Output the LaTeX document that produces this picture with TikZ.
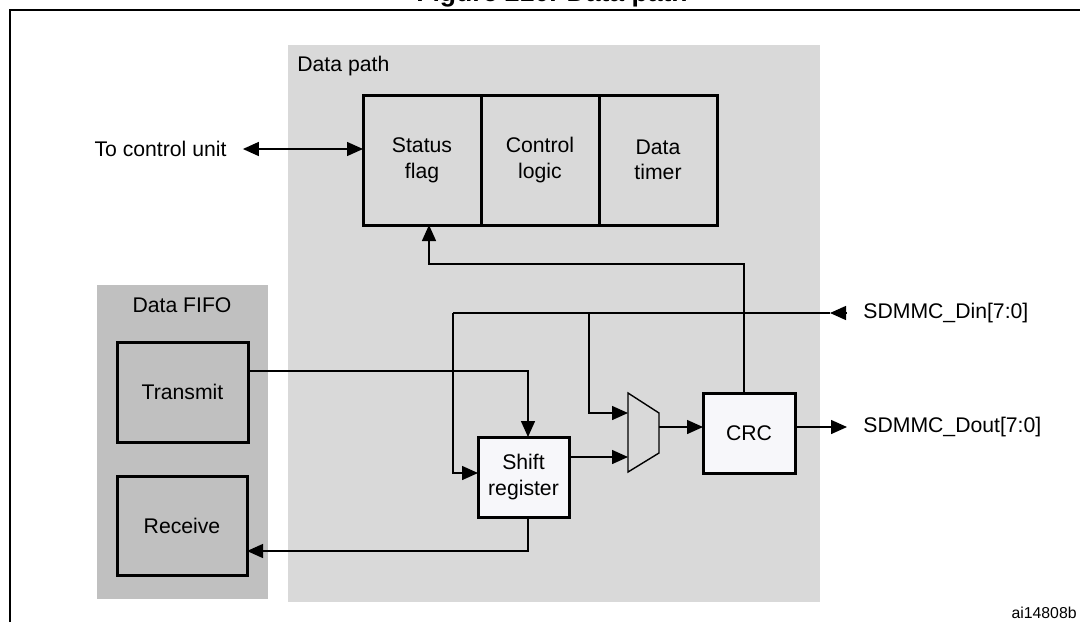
\documentclass[tikz,border=0pt]{standalone}
\usepackage{fontspec}
\setmainfont{Liberation Sans}
\usetikzlibrary{positioning,calc,arrows.meta}
\definecolor{pathgrey}{HTML}{D9D9D9}
\definecolor{fifogrey}{HTML}{C0C0C0}
\definecolor{regfill}{HTML}{F7F7FA}
\tikzset{
	blk/.style={draw, line width=1.5pt, outer sep=0pt, inner sep=0pt, align=center, font=\fontsize{10.6}{12.8}\selectfont},
	lbl/.style={inner sep=0pt, font=\fontsize{10.6}{12.8}\selectfont},
	wire/.style={line width=0.7pt},
	>={Triangle[length=8pt,width=7pt]}
}

\begin{document}
\begin{tikzpicture}[x=0.5pt, y=-0.5pt]
		%%%%% START %%%%%
		\useasboundingbox (0, 0) rectangle (1080, 622);
		
		\node[anchor=base, inner sep=0pt, font=\fontsize{13.3}{15}\selectfont\bfseries] (fig) at (552, 1) {Figure 210. Data path};
		\draw[line width=0.8pt] (10, 622) -- (10, 10) -- (1080, 10);
		
		\fill[pathgrey] (288, 45) rectangle (820, 602);
		\fill[fifogrey] (97, 285) rectangle (268, 599);
		\node[lbl, anchor=west] (pathlbl) at (297, 66) {Data path};
		\node[lbl] (fifolbl) at (182, 305) {Data FIFO};
		
		\node[blk, minimum width=59pt, minimum height=65pt] (status) at (422, 160) {Status\\flag};
		\node[blk, minimum width=59pt, minimum height=65pt, right=0pt of status] (ctrl) {Control\\logic};
		\node[blk, minimum width=59pt, minimum height=65pt, right=0pt of ctrl] (timer) {Data\\timer};
		
		\node[blk, minimum width=65.5pt, minimum height=50pt] (transmit) at (182.5, 392) {Transmit};
		\node[blk, minimum width=65pt, minimum height=49.5pt] (receive) at (182, 525.5) {Receive};
		
		\node[blk, fill=regfill, minimum width=45.5pt, minimum height=40pt] (shift) at (523.5, 477) {Shift\\register};
		\node[blk, fill=regfill, minimum width=46pt, minimum height=40pt] (crc) at (749, 433) {CRC};
		
		\draw[wire] (628, 393) -- (659, 413) -- (659, 453) -- (628, 472) -- cycle;
		\coordinate (muxa) at (628, 413);
		\coordinate (muxb) at (628, 457);
		\coordinate (muxo) at (659, 427);
		
		\node[lbl] (tcu) at (160.5, 149) {To control unit};
		\node[lbl, anchor=west] (din) at (863, 313) {SDMMC\_Din[7:0]};
		\node[lbl, anchor=west] (dout) at (863, 427) {SDMMC\_Dout[7:0]};
		\node[anchor=east, inner sep=0pt, font=\fontsize{7.9}{9}\selectfont] (ref) at (1077, 613) {ai14808b};
		
		\draw[wire, <->] ([xshift=8pt]tcu.east) -- (tcu.east -| status.west);
		
		\coordinate (fb) at (744, 264);
		\draw[wire, ->] (crc.north -| fb) -- (fb) -| ([xshift=3.5pt]status.south);
		
		\coordinate (dinl) at (453, 313);
		\coordinate (dinm) at (589, 313);
		\draw[wire, ->] ([xshift=-8pt]din.west) -- ++(-17, 0) coordinate (dintip);
		\draw[wire] (dintip) -- (dinl);
		\draw[wire, ->] (dinl) |- ([yshift=2pt]shift.west);
		\draw[wire, ->] (dinm) |- (muxa);
		
		\draw[wire, ->] ([yshift=10.5pt]transmit.east) -| ([xshift=2.25pt]shift.north);
		\draw[wire, ->] (shift.east |- muxb) -- (muxb);
		\draw[wire, ->] (muxo) -- (crc.west |- muxo);
		\draw[wire, ->] (crc.east |- muxo) -- ([xshift=-8pt]dout.west);
		\draw[wire, ->] ([xshift=2.25pt]shift.south) |- ([yshift=-12.75pt]receive.east);
		
		%%%%% END %%%%%
	\end{tikzpicture}
\end{document}
